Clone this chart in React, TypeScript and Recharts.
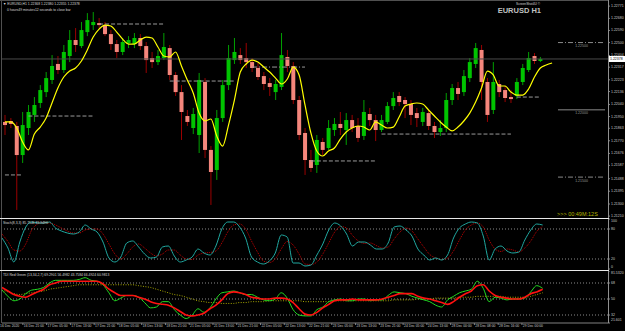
import { Bar, ComposedChart, Line, ReferenceLine, XAxis, YAxis } from 'recharts'

// EURUSD H1, 16-29 Dec 2020
const opens = [
  1.2191, 1.21917, 1.2188, 1.21664, 1.21865, 1.21962, 1.22051, 1.22132, 1.22222, 1.22341,
  1.22296, 1.224, 1.22519, 1.22474, 1.22578, 1.2263, 1.22645, 1.2263, 1.22563, 1.22489,
  1.2243, 1.22497, 1.22489, 1.22534, 1.22474, 1.22385, 1.22355, 1.22385, 1.22459, 1.22259,
  1.22132, 1.21954, 1.21865, 1.21813, 1.22207, 1.21702, 1.21553, 1.21939, 1.22184, 1.2237,
  1.22407, 1.22385, 1.22355, 1.22311, 1.22251, 1.22199, 1.22132, 1.2217, 1.22393, 1.22326,
  1.22073, 1.21828, 1.21627, 1.2159, 1.21761, 1.21716, 1.2185, 1.21895, 1.2185, 1.21924,
  1.2188, 1.21806, 1.21969, 1.21924, 1.2185, 1.2191, 1.22028, 1.22103, 1.22073, 1.22043,
  1.21976, 1.2191, 1.21976, 1.2188, 1.21835, 1.21865, 1.22073, 1.22162, 1.22132, 1.22236,
  1.22341, 1.22445, 1.22207, 1.21999, 1.22192, 1.22147, 1.22095, 1.22103, 1.22207, 1.22296,
  1.224, 1.22363,
]
const highs = [
  1.21962, 1.21939, 1.2191, 1.21984, 1.22036, 1.22095, 1.22184, 1.22281, 1.22407, 1.224,
  1.22482, 1.22593, 1.22608, 1.22653, 1.22719, 1.22727, 1.22682, 1.22653, 1.22593, 1.22519,
  1.22534, 1.22548, 1.22571, 1.22563, 1.22504, 1.2243, 1.22445, 1.22571, 1.22482, 1.22281,
  1.22184, 1.21999, 1.22014, 1.22274, 1.22236, 1.21731, 1.21999, 1.22222, 1.22482, 1.22534,
  1.22459, 1.22497, 1.22385, 1.22348, 1.22281, 1.22236, 1.22222, 1.22571, 1.22445, 1.22355,
  1.22103, 1.21865, 1.21702, 1.21813, 1.21791, 1.21924, 1.21939, 1.21984, 1.21976, 1.21962,
  1.21939, 1.22073, 1.22014, 1.21962, 1.21962, 1.22058, 1.22132, 1.22132, 1.22095, 1.22073,
  1.22014, 1.22014, 1.21999, 1.2191, 1.21924, 1.22125, 1.22192, 1.22207, 1.22296, 1.22385,
  1.22497, 1.22482, 1.22236, 1.22355, 1.22222, 1.22177, 1.22147, 1.22236, 1.22341, 1.2243,
  1.22422, 1.22393,
]
const lows = [
  1.21813, 1.21865, 1.21256, 1.21605, 1.21813, 1.2191, 1.22014, 1.22095, 1.22192, 1.22266,
  1.22274, 1.22355, 1.2243, 1.22459, 1.22548, 1.22593, 1.22608, 1.22548, 1.22445, 1.22385,
  1.22407, 1.22459, 1.22459, 1.22445, 1.22274, 1.22311, 1.22333, 1.2237, 1.22222, 1.22103,
  1.21776, 1.2188, 1.2182, 1.21679, 1.21642, 1.21293, 1.21479, 1.2191, 1.22147, 1.22341,
  1.22341, 1.22311, 1.22281, 1.22222, 1.22147, 1.22103, 1.22073, 1.22147, 1.22281, 1.22043,
  1.21776, 1.21516, 1.21538, 1.21531, 1.21664, 1.21702, 1.21806, 1.21813, 1.21739, 1.21835,
  1.21761, 1.21776, 1.2188, 1.21768, 1.21835, 1.21895, 1.21999, 1.22028, 1.21939, 1.21887,
  1.21872, 1.2188, 1.2185, 1.21791, 1.21806, 1.21835, 1.22036, 1.22073, 1.22103, 1.22207,
  1.22311, 1.22073, 1.2191, 1.21969, 1.22095, 1.22058, 1.22051, 1.2208, 1.22184, 1.22281,
  1.22341, 1.22355,
]
const closes = [
  1.21887, 1.21895, 1.21664, 1.21887, 1.21984, 1.22036, 1.22147, 1.22236, 1.22326, 1.22296,
  1.2243, 1.22519, 1.22482, 1.22593, 1.22667, 1.22653, 1.2263, 1.22563, 1.22489, 1.2243,
  1.22504, 1.22519, 1.22534, 1.22474, 1.2237, 1.22355, 1.224, 1.22467, 1.22259, 1.22132,
  1.21984, 1.2191, 1.21969, 1.22222, 1.21702, 1.21538, 1.21939, 1.22184, 1.22385, 1.2243,
  1.2237, 1.22355, 1.22311, 1.22244, 1.22192, 1.2217, 1.22192, 1.22407, 1.22326, 1.22073,
  1.21813, 1.21627, 1.21568, 1.21776, 1.21702, 1.21865, 1.21895, 1.21865, 1.21924, 1.21865,
  1.21791, 1.21984, 1.21924, 1.2185, 1.21924, 1.22028, 1.22088, 1.22058, 1.22043, 1.21962,
  1.21939, 1.21984, 1.2188, 1.21835, 1.21865, 1.22073, 1.22162, 1.22118, 1.22251, 1.22355,
  1.22459, 1.22207, 1.21962, 1.22207, 1.22132, 1.22088, 1.2208, 1.22207, 1.22311, 1.22385,
  1.22363, 1.22378,
]
// yellow moving average (runs one bar past the last candle)
const maLine = [
  1.2191, 1.2191, 1.21865, 1.21761, 1.21702, 1.2182, 1.21872, 1.21939, 1.22051, 1.22162,
  1.22244, 1.22288, 1.22311, 1.22363, 1.22445, 1.22541, 1.226, 1.2263, 1.22623, 1.22578,
  1.22526, 1.22489, 1.22489, 1.22519, 1.22541, 1.22534, 1.22467, 1.224, 1.22393, 1.2243,
  1.22326, 1.22222, 1.22125, 1.21976, 1.21917, 1.21932, 1.21806, 1.21731, 1.21887, 1.22073,
  1.22281, 1.22341, 1.2237, 1.22355, 1.22318, 1.22281, 1.22236, 1.22192, 1.22229, 1.22318,
  1.22259, 1.22036, 1.21828, 1.21694, 1.21657, 1.21694, 1.21716, 1.21783, 1.21835, 1.21865,
  1.2188, 1.21872, 1.2185, 1.2191, 1.21887, 1.21865, 1.21872, 1.21947, 1.22028, 1.22043,
  1.22051, 1.22043, 1.21999, 1.21954, 1.2191, 1.21872, 1.21843, 1.21872, 1.21917, 1.21976,
  1.22058, 1.22162, 1.22288, 1.22259, 1.22177, 1.22177, 1.22132, 1.2211, 1.2211, 1.22155,
  1.22244, 1.22311, 1.22333, 1.22348,
]
const stochMain = [
  62, 42, 14, 54, 84, 94, 92, 92, 94, 82, 76, 72, 70, 74, 88, 80, 74, 54, 22, 14,
  24, 52, 56, 44, 30, 22, 24, 44, 46, 26, 14, 18, 24, 40, 32, 28, 46, 80, 94, 94,
  84, 62, 24, 14, 10, 16, 32, 68, 64, 12, 12, 6, 8, 28, 50, 78, 92, 86, 70, 46,
  54, 54, 48, 40, 40, 52, 84, 86, 78, 66, 40, 28, 18, 22, 18, 28, 62, 82, 90, 94,
  92, 66, 18, 40, 46, 36, 32, 34, 58, 78, 90, 88,
]
const stochSignal = [
  70, 55, 38, 36, 50, 78, 90, 93, 92, 88, 82, 76, 72, 72, 78, 80, 80, 70, 50, 30,
  20, 30, 44, 50, 42, 32, 26, 30, 38, 38, 28, 20, 19, 28, 32, 33, 36, 52, 74, 88,
  90, 80, 56, 34, 16, 13, 20, 40, 55, 48, 30, 10, 9, 14, 30, 52, 74, 85, 82, 67,
  56, 51, 52, 47, 42, 44, 60, 74, 82, 76, 60, 44, 29, 22, 19, 22, 36, 58, 78, 88,
  92, 84, 58, 40, 35, 40, 38, 34, 42, 56, 75, 85,
]
const tdiGreen = [
  60, 53, 48, 50, 56, 60, 61, 63, 68, 71, 71, 71, 71, 72, 74, 71, 70, 66, 57, 48,
  51, 54, 54, 52, 46, 40, 41, 47, 47, 38, 32, 28, 32, 39, 35, 40, 50, 57, 58, 59,
  57, 55, 55, 52, 49, 48, 50, 57, 51, 38, 32, 31, 31, 38, 41, 47, 49, 50, 48, 48,
  50, 50, 48, 49, 49, 54, 58, 57, 56, 53, 51, 49, 47, 43, 41, 49, 53, 57, 59, 61,
  70, 62, 47, 52, 51, 49, 50, 50, 51, 58, 65, 62,
]
const tdiRed = [
  63, 59, 55, 53, 52, 55, 58, 61, 66, 68, 70, 70, 70, 70, 70, 70, 70, 67, 61, 57,
  54, 54, 54, 52, 50, 47, 45, 44, 43, 40, 36, 32, 31, 32, 34, 39, 43, 49, 56, 58,
  57, 55, 52, 51, 50, 50, 51, 51, 50, 46, 39, 33, 32, 35, 40, 44, 48, 49, 49, 50,
  49, 49, 49, 49, 50, 52, 54, 56, 56, 56, 53, 51, 50, 48, 46, 44, 47, 52, 56, 59,
  65, 66, 59, 54, 52, 51, 50, 50, 52, 56, 58, 61,
]
const tdiMid = [
  60, 58, 56, 55, 56, 57, 58, 59, 61, 62, 63, 64, 65, 66, 66, 66, 66, 66, 66, 66,
  66, 66, 66, 65, 64, 63, 61, 59, 57, 55, 54, 52, 50, 48, 47, 46, 46, 45, 45, 45,
  46, 46, 47, 47, 47, 48, 48, 48, 48, 48, 48, 47, 47, 47, 47, 47, 48, 48, 48, 48,
  48, 48, 48, 48, 48, 48, 49, 49, 49, 49, 50, 50, 50, 51, 51, 51, 51, 52, 52, 52,
  53, 53, 53, 53, 53, 52, 52, 52, 52, 53, 55, 57,
]
const timeLabels = [
  '16 Dec 2020', '16 Dec 21:00', '17 Dec 05:00', '17 Dec 13:00', '17 Dec 21:00',
  '18 Dec 05:00', '18 Dec 13:00', '18 Dec 21:00', '21 Dec 05:00', '21 Dec 13:00',
  '21 Dec 21:00', '22 Dec 05:00', '22 Dec 13:00', '22 Dec 21:00', '23 Dec 05:00',
  '23 Dec 13:00', '23 Dec 21:00', '24 Dec 05:00', '24 Dec 13:00', '28 Dec 00:00',
  '28 Dec 08:00', '28 Dec 16:00', '29 Dec 00:00',
]
const priceTicks = [
  1.22771, 1.2268, 1.2259, 1.225, 1.22404, 1.22317, 1.22223, 1.22136, 1.2204,
  1.2195, 1.21863, 1.2177, 1.21676, 1.21587, 1.21488, 1.21395, 1.213, 1.2121,
]
const stochTicks = [0, 20, 80, 100]
const tdiTicks = [23, 32, 50, 68, 81.5]
const tdiTickText: Record<string, string> = { '23': '21.601', '81.5': '81.5320' }
// grey S/R segments drawn by the template: [fromBar, toBar, price]
const dashedLevels = [
  [0, 3, 1.21516], [4, 15, 1.21954], [16, 27, 1.22638], [28, 39, 1.22214],
  [52, 63, 1.2162], [64, 86, 1.2182], [87, 91, 1.22095],
]
const dashDotLevels = [[42, 51, 1.22318]]
const roundLevels = [1.225, 1.22, 1.215]

const SLOTS = 103
const AXIS_W = 17
const FONT = 'Liberation Sans, Arial, sans-serif'
const SMALL = 3.5
const lastClose = closes[closes.length - 1]

const rows = Array.from({ length: SLOTS }, (_, i) => ({
  i,
  range: i < opens.length ? [lows[i], highs[i]] : undefined,
  open: opens[i],
  high: highs[i],
  low: lows[i],
  close: closes[i],
  ma: maLine[i],
  k: stochMain[i],
  d: stochSignal[i],
  green: tdiGreen[i],
  red: tdiRed[i],
  mid: tdiMid[i],
}))

function Candle(props: any) {
  const { x, y, width, height, payload } = props
  if (!payload || payload.open == null) return null
  const { open, close, high, low } = payload
  const top = Math.min(y, y + height)
  const h = Math.abs(height)
  const k = h / (high - low || 1)
  const cx = x + width / 2
  const bTop = top + (high - Math.max(open, close)) * k
  const bBot = top + (high - Math.min(open, close)) * k
  const up = close >= open
  return (
    <g>
      <line x1={cx} x2={cx} y1={top} y2={top + h} stroke={up ? '#00a000' : '#9a0000'} strokeWidth={1} />
      <rect x={cx - 2} y={bTop} width={4} height={Math.max(1, bBot - bTop)} fill={up ? '#00c400' : '#f4867c'} />
    </g>
  )
}

function PriceTick({ x, y, payload }: any) {
  return (
    <text x={x} y={y} dominantBaseline="central" fontSize={SMALL} fontFamily={FONT} fill="#c8c8c8">
      {Number(payload.value).toFixed(5)}
    </text>
  )
}

function StochTick({ x, y, payload }: any) {
  const v = payload.value
  const dy = v === 100 ? 2 : v === 0 ? -2 : 0
  return (
    <text x={x} y={y + dy} dominantBaseline="central" fontSize={SMALL} fontFamily={FONT} fill="#c8c8c8">
      {v}
    </text>
  )
}

function TdiTick({ x, y, payload }: any) {
  const v = payload.value
  const dy = v === 81.5 ? 1.5 : v === 23 ? -3 : 0
  return (
    <text x={x} y={y + dy} dominantBaseline="central" fontSize={SMALL} fontFamily={FONT} fill="#c8c8c8">
      {tdiTickText[String(v)] ?? v}
    </text>
  )
}

function TimeTick({ x, y, payload }: any) {
  const idx = Number(payload.value)
  const text = idx % 4 === 0 ? timeLabels[idx / 4] : undefined
  if (!text) return null
  return (
    <g>
      <line x1={x - 2.9} x2={x - 2.9} y1={y} y2={y + 2} stroke="#808080" />
      <text x={x - 2} y={y + 2} dominantBaseline="hanging" fontSize={3.4} fontFamily={FONT} fill="#c8c8c8">
        {text}
      </text>
    </g>
  )
}

function PriceBox(props: any) {
  const { viewBox } = props
  if (!viewBox) return null
  const right = viewBox.x + viewBox.width
  return (
    <g>
      <rect x={right} y={viewBox.y - 3} width={AXIS_W} height={6} fill="#ffffff" />
      <text x={right + 2} y={viewBox.y} dominantBaseline="central" fontSize={SMALL} fontFamily={FONT} fill="#000">
        {lastClose.toFixed(5)}
      </text>
    </g>
  )
}

const levelLabel = (v: number) => ({
  value: v.toFixed(5),
  position: 'bottom' as const,
  offset: 2,
  fontSize: SMALL,
  fontFamily: FONT,
  fill: '#9a9a9a',
})

export default function App() {
  return (
    <div style={{ position: 'absolute', left: 0, top: 0, width: 625, height: 331, background: '#000', overflow: 'hidden' }}>
      {/* price panel */}
      <div style={{ position: 'absolute', left: 0, top: 0 }}>
        <ComposedChart width={625} height={219} data={rows} margin={{ top: 1, right: 0, bottom: 1, left: 2 }} barCategoryGap={0} barGap={0}>
          <XAxis dataKey="i" hide />
          <YAxis
            orientation="right"
            width={AXIS_W}
            domain={[1.21196, 1.22809]}
            ticks={priceTicks}
            interval={0}
            axisLine={false}
            tickLine={{ stroke: '#808080' }}
            tickSize={2}
            tickMargin={1}
            tick={<PriceTick />}
          />
          <ReferenceLine y={lastClose} stroke="#4a4a4a" strokeWidth={1} label={(p: any) => <PriceBox {...p} />} />
          {dashedLevels.map(([a, b, p]) => (
            <ReferenceLine key={`d${a}`} segment={[{ x: a, y: p }, { x: b, y: p }]} stroke="#9a9a9a" strokeDasharray="4 2" />
          ))}
          {dashDotLevels.map(([a, b, p]) => (
            <ReferenceLine key={`dd${a}`} segment={[{ x: a, y: p }, { x: b, y: p }]} stroke="#9a9a9a" strokeDasharray="5 2 1 2" />
          ))}
          {roundLevels.map((p) => (
            <ReferenceLine
              key={`r${p}`}
              segment={[{ x: 94, y: p }, { x: SLOTS - 1, y: p }]}
              stroke="#8a8a8a"
              strokeDasharray={Math.abs(p * 100 - Math.round(p * 100)) < 1e-6 ? undefined : '5 2 1 2'}
              label={levelLabel(p)}
            />
          ))}
          <Bar dataKey="range" shape={<Candle />} isAnimationActive={false} />
          <Line dataKey="ma" type="monotone" stroke="#ffff00" strokeWidth={1.2} dot={false} isAnimationActive={false} />
        </ComposedChart>
      </div>

      {/* stochastic panel */}
      <div style={{ position: 'absolute', left: 0, top: 218 }}>
        <ComposedChart width={625} height={53} data={rows} margin={{ top: 1, right: 0, bottom: 2, left: 2 }}>
          <XAxis dataKey="i" hide />
          <YAxis
            orientation="right"
            width={AXIS_W}
            domain={[0, 100]}
            ticks={stochTicks}
            interval={0}
            axisLine={false}
            tickLine={{ stroke: '#808080' }}
            tickSize={2}
            tickMargin={1}
            tick={<StochTick />}
          />
          <ReferenceLine y={80} stroke="#8a8a8a" strokeDasharray="1 2" />
          <ReferenceLine y={20} stroke="#8a8a8a" strokeDasharray="1 2" />
          <Line dataKey="d" type="monotone" stroke="#c00000" strokeWidth={1} strokeDasharray="1 1" dot={false} isAnimationActive={false} />
          <Line dataKey="k" type="monotone" stroke="#20a8a0" strokeWidth={1} dot={false} isAnimationActive={false} />
        </ComposedChart>
      </div>

      {/* TDI panel + time axis */}
      <div style={{ position: 'absolute', left: 0, top: 271 }}>
        <ComposedChart width={625} height={60} data={rows} margin={{ top: 0, right: 0, bottom: 0, left: 2 }}>
          <XAxis
            dataKey="i"
            height={8}
            interval={3}
            axisLine={{ stroke: '#808080' }}
            tickLine={false}
            tickSize={0}
            tickMargin={0}
            tick={<TimeTick />}
          />
          <YAxis
            orientation="right"
            width={AXIS_W}
            domain={[23, 81.5]}
            ticks={tdiTicks}
            interval={0}
            axisLine={false}
            tickLine={{ stroke: '#808080' }}
            tickSize={2}
            tickMargin={1}
            tick={<TdiTick />}
          />
          <ReferenceLine y={68} stroke="#8a8a8a" strokeDasharray="1 2" />
          <ReferenceLine y={50} stroke="#8a8a8a" strokeDasharray="1 2" />
          <ReferenceLine y={32} stroke="#8a8a8a" strokeDasharray="1 2" />
          <Line dataKey="mid" type="monotone" stroke="#a8a800" strokeWidth={1} strokeDasharray="1 1.5" dot={false} isAnimationActive={false} />
          <Line dataKey="green" type="monotone" stroke="#22dd22" strokeWidth={1} dot={false} isAnimationActive={false} />
          <Line dataKey="red" type="monotone" stroke="#ff1010" strokeWidth={1.6} dot={false} isAnimationActive={false} />
        </ComposedChart>
      </div>

      {/* frame, separators and captions */}
      <svg width={625} height={331} style={{ position: 'absolute', left: 0, top: 0, pointerEvents: 'none' }}>
        <line x1={0} x2={608} y1={0.5} y2={0.5} stroke="#505050" />
        <line x1={1.5} x2={1.5} y1={0} y2={323} stroke="#505050" />
        <line x1={608.5} x2={608.5} y1={0} y2={323} stroke="#909090" />
        <line x1={0} x2={609} y1={218.5} y2={218.5} stroke="#e8e8e8" />
        <line x1={0} x2={609} y1={270.5} y2={270.5} stroke="#e8e8e8" />
        <g fontFamily={FONT} fontSize={3.4} fill="#d8d8d8">
          <text x={3} y={5}>▼ EURUSD,H1  1.22368 1.22380 1.22355 1.22378</text>
          <text x={7} y={11}>0 hours49 minutes12 seconds to close bar</text>
          <text x={540} y={5} textAnchor="end" fontSize={3.2}>ScreenShot4U ©</text>
          <text x={3} y={224}>Stoch(8,3,3) 85.7546 89.9496</text>
          <text x={3} y={276}>TDI Red Green (13,34,2,7) 69.2901 56.4982 43.7584 66.4924 60.9813</text>
        </g>
        <text x={541} y={13} textAnchor="end" fontFamily={FONT} fontSize={7.5} fontWeight="bold" fill="#c0c0c0">
          EURUSD H1
        </text>
        <text x={557} y={216} fontFamily={FONT} fontSize={5.5} fill="#b4b400">
          {'>>>  00:49M:12S'}
        </text>
      </svg>
    </div>
  )
}
